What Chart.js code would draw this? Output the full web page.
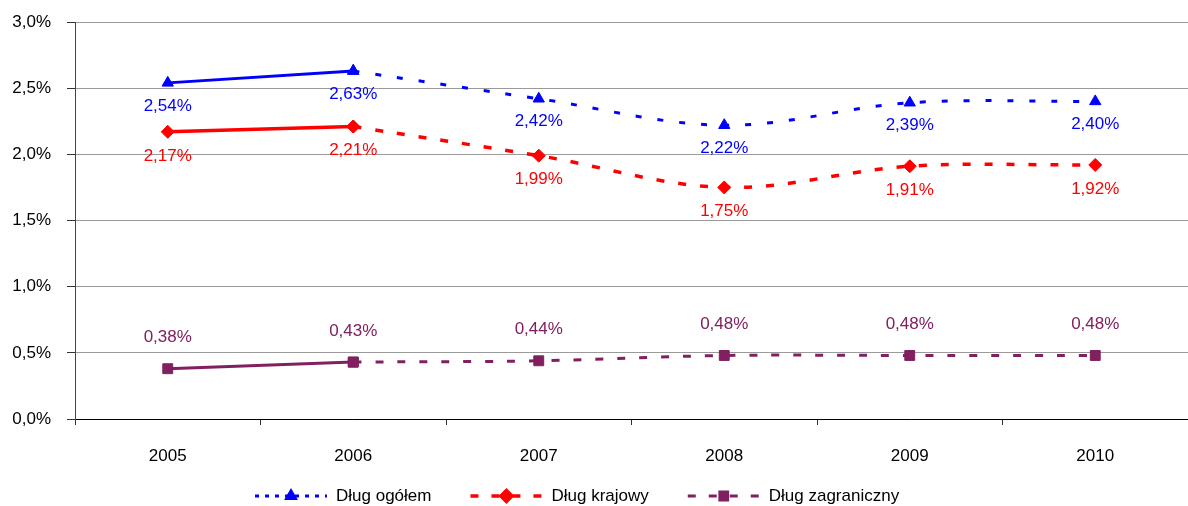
<!DOCTYPE html>
<html>
<head>
<meta charset="utf-8">
<script src="https://cdn.jsdelivr.net/npm/chart.js@4.4.1/dist/chart.umd.min.js"></script>
<style>
html, body { margin: 0; padding: 0; background: #fff; }
#wrap { width: 1188px; height: 506px; position: relative; }
</style>
</head>
<body>
<div id="wrap"><canvas id="debtChart"></canvas></div>
<script>
// data
const years = ['2005', '2006', '2007', '2008', '2009', '2010'];
const dlugOgolem = [2.54, 2.63, 2.42, 2.22, 2.39, 2.40];
const dlugKrajowy = [2.17, 2.21, 1.99, 1.75, 1.91, 1.92];
const dlugZagraniczny = [0.38, 0.43, 0.44, 0.48, 0.48, 0.48];
const seriesNames = ['Dług ogółem', 'Dług krajowy', 'Dług zagraniczny'];

const FONT = '"Liberation Sans", Arial, sans-serif';

function pct(v, digits) {
    return v.toFixed(digits).replace('.', ',') + '%';
}

// style of each series
const series = [
    { name: seriesNames[0], data: dlugOgolem, color: '#0000ff', width: 3,
      marker: 'triangle', radius: 6.5, legendRadius: 5,
      dash: [6, 16], legendDash: [4, 6], labelOffset: 23 },
    { name: seriesNames[1], data: dlugKrajowy, color: '#ff0000', width: 3.5,
      marker: 'rectRot', radius: 6.5, legendRadius: 5.5,
      dash: [8, 14], legendDash: [8, 13], labelOffset: 24 },
    { name: seriesNames[2], data: dlugZagraniczny, color: '#802060', width: 3,
      marker: 'rect', radius: 7, legendRadius: 5.5,
      dash: [8, 14], legendDash: [8, 13], labelOffset: -31 }
];

// every series = solid straight part 2005-2006 + smoothed dashed part from 2006
const datasets = [];
series.forEach(s => {
    const base = {
        borderColor: s.color,
        backgroundColor: s.color,
        borderWidth: s.width,
        pointStyle: s.marker,
        pointRadius: s.radius,
        pointBorderWidth: 1
    };
    datasets.push(Object.assign({}, base, {
        label: s.name,
        data: s.data.map((v, i) => i <= 1 ? v : null),
        tension: 0
    }));
    datasets.push(Object.assign({}, base, {
        label: s.name,
        data: s.data.map((v, i) => i >= 1 ? v : null),
        borderDash: s.dash,
        tension: 0.35
    }));
});

// value labels next to each point
const valueLabels = {
    id: 'valueLabels',
    afterDatasetsDraw(chart) {
        const ctx = chart.ctx;
        const xs = chart.scales.x, ys = chart.scales.y;
        ctx.save();
        ctx.font = '17px ' + FONT;
        ctx.textAlign = 'center';
        ctx.textBaseline = 'middle';
        series.forEach(s => {
            ctx.fillStyle = s.color;
            s.data.forEach((v, j) => {
                ctx.fillText(pct(v, 2), xs.getPixelForValue(j), ys.getPixelForValue(v) + s.labelOffset);
            });
        });
        ctx.restore();
    }
};

// legend with line sample + marker, under the axis
const lineLegend = {
    id: 'lineLegend',
    afterDraw(chart) {
        const ctx = chart.ctx;
        const y = 496;
        let x = 255;
        ctx.save();
        ctx.font = '17px ' + FONT;
        ctx.textBaseline = 'middle';
        series.forEach(s => {
            const w = 72;
            ctx.strokeStyle = s.color;
            ctx.lineWidth = s.width;
            ctx.setLineDash(s.legendDash);
            ctx.beginPath();
            ctx.moveTo(x, y);
            ctx.lineTo(x + w, y);
            ctx.stroke();
            ctx.setLineDash([]);
            ctx.fillStyle = s.color;
            Chart.helpers.drawPoint(ctx, {
                pointStyle: s.marker,
                radius: s.legendRadius,
                borderWidth: 1
            }, x + w / 2, y);
            ctx.fill();
            ctx.fillStyle = '#000';
            const tx = x + w + 9;
            ctx.fillText(s.name, tx, y);
            x = tx + ctx.measureText(s.name).width + 39;
        });
        ctx.restore();
    }
};

const config = {
    type: 'line',
    data: { labels: years, datasets: datasets },
    options: {
        responsive: true,
        maintainAspectRatio: false,
        animation: false,
        layout: {
            autoPadding: false,
            padding: { top: 22, right: 0, bottom: 32, left: 0 }
        },
        plugins: {
            legend: { display: false },
            tooltip: { enabled: false }
        },
        scales: {
            x: {
                offset: true,
                grid: {
                    offset: true,
                    drawOnChartArea: false,
                    tickLength: 6,
                    tickColor: '#333'
                },
                border: { color: '#000', width: 1 },
                ticks: {
                    color: '#000',
                    padding: 21,
                    maxRotation: 0,
                    font: { family: FONT, size: 17 }
                },
                afterFit(scale) {
                    scale.height = 55;
                    scale.paddingLeft = 0;
                    scale.paddingRight = 0;
                }
            },
            y: {
                min: 0,
                max: 3,
                grid: {
                    color: '#9a9a9a',
                    lineWidth: 1,
                    tickLength: 8,
                    tickColor: '#333'
                },
                border: { color: '#444', width: 1 },
                ticks: {
                    stepSize: 0.5,
                    color: '#000',
                    padding: 16,
                    font: { family: FONT, size: 17 },
                    callback: v => pct(v, 1)
                },
                afterFit(scale) {
                    scale.width = 75;
                    scale.paddingTop = 0;
                    scale.paddingBottom = 0;
                }
            }
        }
    },
    plugins: [valueLabels, lineLegend]
};

const debtChart = new Chart(
    document.getElementById('debtChart'),
    config
);
</script>
</body>
</html>
